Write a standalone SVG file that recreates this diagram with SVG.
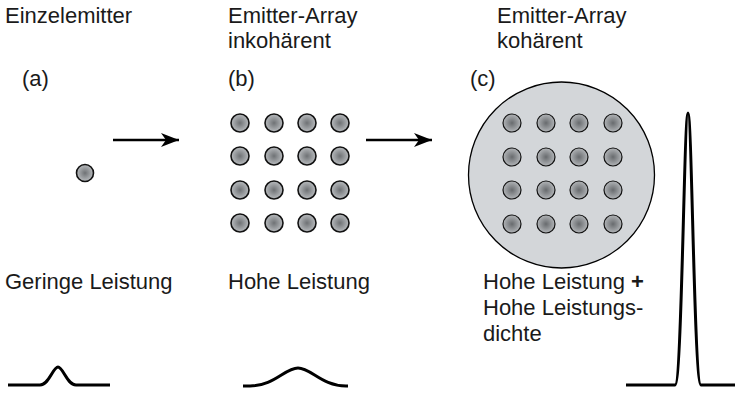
<svg xmlns="http://www.w3.org/2000/svg" width="736" height="395" viewBox="0 0 736 395">
  <style>
    .lbl { font-family: "Liberation Sans", Arial, sans-serif; font-size: 22px; fill: #1a1a1a; }
    .em { fill: url(#dot); stroke: #111; stroke-width: 1.6; }
    .emc { fill: url(#dotc); stroke: #111; stroke-width: 1.2; }
    .prof { fill: none; stroke: #000; stroke-width: 3; stroke-linejoin: round; }
    .arr { stroke: #000; stroke-width: 2.5; fill: none; }
  </style>
  <defs>
    <radialGradient id="dot" cx="0.5" cy="0.5" r="0.5">
      <stop offset="0" stop-color="#6f7275"/>
      <stop offset="1" stop-color="#b9bcbf"/>
    </radialGradient>
    <radialGradient id="dotc" cx="0.5" cy="0.5" r="0.5">
      <stop offset="0" stop-color="#686b6e"/>
      <stop offset="1" stop-color="#b2b5b8"/>
    </radialGradient>
    <marker id="head" markerWidth="20" markerHeight="16" refX="18" refY="8" orient="auto" markerUnits="userSpaceOnUse">
      <path d="M0,1 L18,8 L0,15 L5,8 Z" fill="#000"/>
    </marker>
  </defs>

  <!-- (a) single emitter -->
  <g id="single">
    <text class="lbl" x="5" y="23">Einzelemitter</text>
    <text class="lbl" x="22" y="86">(a)</text>
    <circle class="em" cx="85" cy="173" r="8.5"/>
    <text class="lbl" x="5" y="289">Geringe Leistung</text>
    <path class="prof" d="M8,385 L40,385 C49,385 53,367 58,367 C63,367 67,385 76,385 L110,385"/>
  </g>

  <!-- (b) incoherent array -->
  <g id="incoherent">
    <text class="lbl" x="228" y="23">Emitter-Array</text>
    <text class="lbl" x="228" y="48">inkohärent</text>
    <text class="lbl" x="228" y="86">(b)</text>
    <g>
      <circle class="em" cx="240" cy="123" r="9"/><circle class="em" cx="274" cy="123" r="9"/><circle class="em" cx="307" cy="123" r="9"/><circle class="em" cx="340" cy="123" r="9"/>
      <circle class="em" cx="240" cy="156" r="9"/><circle class="em" cx="274" cy="156" r="9"/><circle class="em" cx="307" cy="156" r="9"/><circle class="em" cx="340" cy="156" r="9"/>
      <circle class="em" cx="240" cy="190" r="9"/><circle class="em" cx="274" cy="190" r="9"/><circle class="em" cx="307" cy="190" r="9"/><circle class="em" cx="340" cy="190" r="9"/>
      <circle class="em" cx="240" cy="223" r="9"/><circle class="em" cx="274" cy="223" r="9"/><circle class="em" cx="307" cy="223" r="9"/><circle class="em" cx="340" cy="223" r="9"/>
    </g>
    <text class="lbl" x="228" y="289">Hohe Leistung</text>
    <path class="prof" d="M243,386 L250,386 C274,386 285,368 298,368 C311,368 322,386 346,386 L348,386"/>
  </g>

  <!-- (c) coherent array -->
  <g id="coherent">
    <text class="lbl" x="497" y="23">Emitter-Array</text>
    <text class="lbl" x="497" y="48">kohärent</text>
    <text class="lbl" x="470" y="86">(c)</text>
    <circle cx="561.5" cy="175" r="93" fill="#d3d6d9" stroke="#000" stroke-width="1.3"/>
    <g>
      <circle class="emc" cx="512" cy="123" r="9"/><circle class="emc" cx="546" cy="123" r="9"/><circle class="emc" cx="579" cy="123" r="9"/><circle class="emc" cx="613" cy="123" r="9"/>
      <circle class="emc" cx="512" cy="157" r="9"/><circle class="emc" cx="546" cy="157" r="9"/><circle class="emc" cx="579" cy="157" r="9"/><circle class="emc" cx="613" cy="157" r="9"/>
      <circle class="emc" cx="512" cy="190" r="9"/><circle class="emc" cx="546" cy="190" r="9"/><circle class="emc" cx="579" cy="190" r="9"/><circle class="emc" cx="613" cy="190" r="9"/>
      <circle class="emc" cx="512" cy="224" r="9"/><circle class="emc" cx="546" cy="224" r="9"/><circle class="emc" cx="579" cy="224" r="9"/><circle class="emc" cx="613" cy="224" r="9"/>
    </g>
    <text class="lbl" x="483" y="289">Hohe Leistung <tspan font-weight="bold">+</tspan></text>
    <text class="lbl" x="483" y="315">Hohe Leistungs-</text>
    <text class="lbl" x="483" y="341">dichte</text>
    <path class="prof" d="M626,385 L675,385 C682,385 684,113 688,113 C692,113 694,385 701,385 L735,385"/>
  </g>

  <!-- transition arrows -->
  <g id="connectors">
    <line class="arr" x1="113" y1="140" x2="179" y2="140" marker-end="url(#head)"/>
    <line class="arr" x1="366" y1="140" x2="432" y2="140" marker-end="url(#head)"/>
  </g>
</svg>
